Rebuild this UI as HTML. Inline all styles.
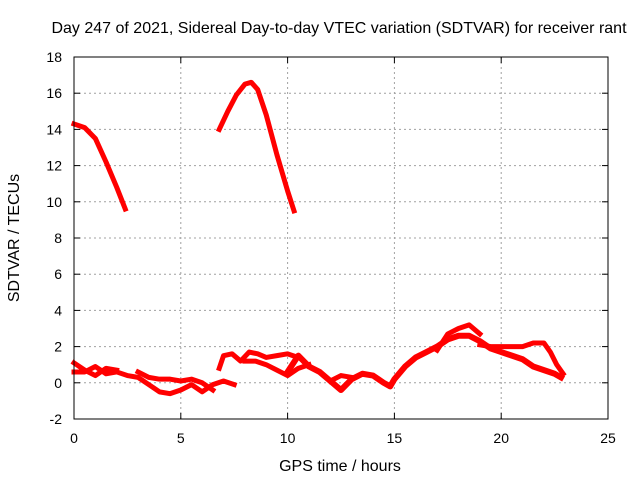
<!DOCTYPE html>
<html><head><meta charset="utf-8"><style>
body{margin:0;background:#fff;}
svg text{font-family:"Liberation Sans",sans-serif;font-size:14px;fill:#000;}
svg text.big{font-size:16px;}
</style></head><body>
<svg id="chart" width="640" height="480" xmlns="http://www.w3.org/2000/svg">
<text class="big" x="339" y="33" text-anchor="middle">Day 247 of 2021, Sidereal Day-to-day VTEC variation (SDTVAR) for receiver rant</text>
<text class="big" x="340" y="471" text-anchor="middle">GPS time / hours</text>
<text class="big" transform="translate(19,238) rotate(-90)" text-anchor="middle">SDTVAR / TECUs</text>
<g id="grid"></g><g id="series"></g><g id="axes"></g>
</svg>
<script>
const xTicks=[0,5,10,15,20,25];
const yTicks=[-2,0,2,4,6,8,10,12,14,16,18];
const seriesHighA_x=[0,0.5,1,1.5,2,2.4];
const seriesHighA_y=[14.3,14.1,13.5,12.2,10.8,9.6];
const seriesHighB_x=[6.8,7.2,7.6,8.0,8.3,8.6,9.0,9.5,10,10.3];
const seriesHighB_y=[14.0,15.0,15.9,16.5,16.6,16.2,14.8,12.6,10.6,9.5];
const low1_x=[0,0.5,1,1.5,2,2.5,3,3.5,4,4.5,5,5.5,6,6.5,7,7.5];
const low1_y=[0.6,0.6,0.9,0.5,0.6,0.4,0.3,-0.1,-0.5,-0.6,-0.4,-0.1,-0.5,-0.1,0.1,-0.1];
const low2_x=[0,0.5,1,1.5,2];
const low2_y=[1.1,0.7,0.4,0.8,0.7];
const low3_x=[3,3.5,4,4.5,5,5.5,6,6.5];
const low3_y=[0.6,0.3,0.2,0.2,0.1,0.2,0.0,-0.4];
const low4_x=[6.8,7,7.4,7.8,8.2,8.6,9,9.5,10,10.5];
const low4_y=[0.8,1.5,1.6,1.2,1.7,1.6,1.4,1.5,1.6,1.4];
const low5_x=[8,8.5,9,9.5,10,10.5,11];
const low5_y=[1.2,1.2,1.0,0.7,0.4,0.8,1.0];
const low6_x=[10,10.5,11,11.5,12,12.5,13,13.5,14,14.5,14.8,15,15.5,16,16.5,17,17.5,18,18.5,19,19.5,20,20.5,21,21.5,22,22.5,22.8];
const low6_y=[0.6,1.5,0.9,0.6,0.1,-0.4,0.2,0.5,0.4,0.0,-0.2,0.2,0.9,1.4,1.7,2.0,2.4,2.6,2.6,2.3,1.9,1.7,1.5,1.3,0.9,0.7,0.5,0.3];
const low7_x=[19,19.5,20,20.5,21,21.5,22,22.3,22.6,22.9];
const low7_y=[2.1,2.0,2.0,2.0,2.0,2.2,2.2,1.7,1.0,0.5];
const low8_x=[17,17.5,18,18.5,19];
const low8_y=[1.8,2.7,3.0,3.2,2.7];
const low9_x=[12,12.5,13];
const low9_y=[0.1,0.4,0.3];
const X0=74,X1=608,Y0=419,Y1=57;
const sx=v=>X0+(v-0)/25*(X1-X0);
const sy=v=>Y0-(v+2)/20*(Y0-Y1);
const NS="http://www.w3.org/2000/svg";
function mk(t,a,p){const e=document.createElementNS(NS,t);for(const k in a)e.setAttribute(k,a[k]);p.appendChild(e);return e;}
const grid=document.getElementById('grid'),axes=document.getElementById('axes'),ser=document.getElementById('series');
xTicks.forEach(t=>{
 if(t>0&&t<25){const l=mk('line',{x1:sx(t),x2:sx(t),y1:Y0,y2:Y1,stroke:'#a0a0a0','stroke-dasharray':'2,3'},grid);
 
 }
 const tx=mk('text',{x:sx(t),y:Y0+24,'text-anchor':'middle'},axes);tx.textContent=t;
 
 
 mk('line',{x1:sx(t),x2:sx(t),y1:Y0,y2:Y0-6,stroke:'#000'},axes);
 mk('line',{x1:sx(t),x2:sx(t),y1:Y1,y2:Y1+6,stroke:'#000'},axes);
});
yTicks.forEach(t=>{
 if(t>-2&&t<18){const l=mk('line',{x1:X0,x2:X1,y1:sy(t),y2:sy(t),stroke:'#a0a0a0','stroke-dasharray':'2,3'},grid);
 
 }
 const tx=mk('text',{x:X0-12,y:sy(t)+5,'text-anchor':'end'},axes);tx.textContent=t;
 
 
 mk('line',{x1:X0,x2:X0+6,y1:sy(t),y2:sy(t),stroke:'#000'},axes);
 mk('line',{x1:X1,x2:X1-6,y1:sy(t),y2:sy(t),stroke:'#000'},axes);
});
const frame=mk('rect',{x:X0,y:Y1,width:X1-X0,height:Y0-Y1,fill:'none',stroke:'#000'},axes);


const all=[[seriesHighA_x,seriesHighA_y,5],[seriesHighB_x,seriesHighB_y,5],[low1_x,low1_y,5],[low2_x,low2_y,5],[low3_x,low3_y,5],[low4_x,low4_y,5],[low5_x,low5_y,5],[low6_x,low6_y,6],[low7_x,low7_y,5],[low8_x,low8_y,5],[low9_x,low9_y,5]];
all.forEach(([xs,ys,w])=>{
 const pts=xs.map((x,i)=>sx(x)+','+sy(ys[i])).join(' ');
 const p=mk('polyline',{points:pts,fill:'none',stroke:'#ff0000','stroke-width':w,'stroke-linejoin':'round','stroke-linecap':'square'},ser);
 
 
});
</script>
</body></html>
